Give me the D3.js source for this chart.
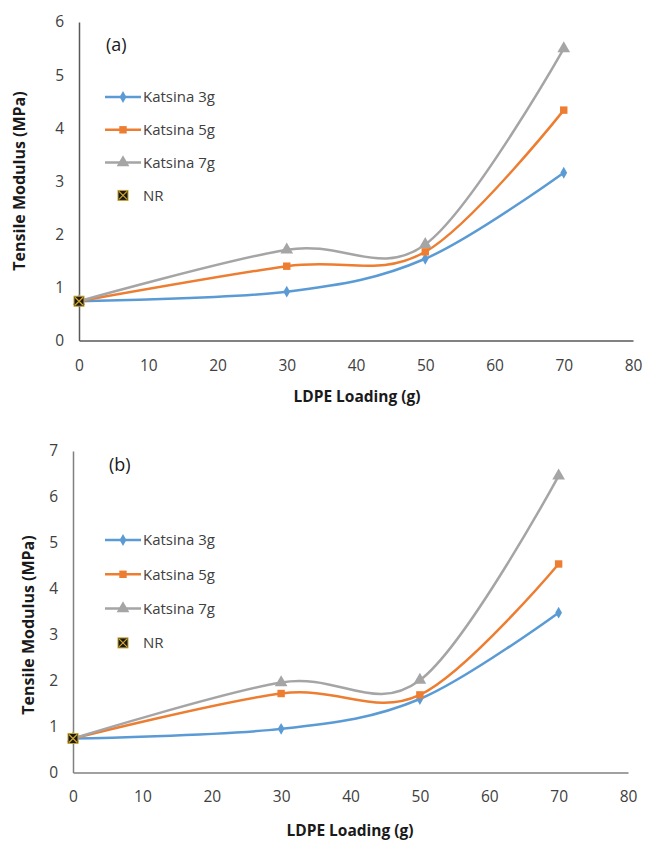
<!DOCTYPE html>
<html>
<head>
<meta charset="utf-8">
<script src="https://cdn.jsdelivr.net/npm/d3@7"></script>
<style>
  body { margin: 0; background: #fff; }
  text { font-family: "Open Sans", "Noto Sans", sans-serif; fill: #404040; }
</style>
</head>
<body>
<script>
// LDPE loading (g)
var loading = [0, 30, 50, 70];
var seriesNames = ["Katsina 3g", "Katsina 5g", "Katsina 7g"];

// panel (a)
var a3g = [0.74, 0.92, 1.54, 3.16];
var a5g = [0.74, 1.40, 1.67, 4.34];
var a7g = [0.74, 1.71, 1.81, 5.50];
// panel (b)
var b3g = [0.74, 0.95, 1.60, 3.48];
var b5g = [0.74, 1.72, 1.69, 4.54];
var b7g = [0.74, 1.96, 2.01, 6.46];

var nrLoading = 0, nrValueA = 0.74, nrValueB = 0.74;

var xTicks = [0, 10, 20, 30, 40, 50, 60, 70, 80];
var yTicksA = [0, 1, 2, 3, 4, 5, 6];
var yTicksB = [0, 1, 2, 3, 4, 5, 6, 7];

var colors = ["#5B9BD5", "#ED7D31", "#A5A5A5"];
var shapes = [d3.symbolDiamond, d3.symbolSquare, d3.symbolTriangle];
var shapeSizes = [40, 55, 70];

var svg = d3.select("body").append("svg")
  .attr("width", 646)
  .attr("height", 841);

function drawChart(opt) {
  var x = d3.scaleLinear().domain([0, 80]).range([opt.left, opt.right]);
  var y = d3.scaleLinear().domain([0, opt.ymax]).range([opt.bottom, opt.top]);
  var g = svg.append("g");

  // axes
  var xa = g.append("g").attr("transform", "translate(0," + opt.bottom + ")")
    .call(d3.axisBottom(x).tickValues(xTicks).tickFormat(d3.format("d")).tickSize(0).tickPadding(opt.xPad));
  var ya = g.append("g").attr("transform", "translate(" + opt.left + ",0)")
    .call(d3.axisLeft(y).tickValues(opt.yTicks).tickFormat(d3.format("d")).tickSize(0).tickPadding(opt.yPad));
  [xa, ya].forEach(function(a) {
    a.select(".domain").attr("stroke", opt.axisColor).attr("stroke-width", 1.5);
    a.selectAll("text").style("font-size", "15.5px").style("fill", "#404040")
      .style("font-family", '"Open Sans", sans-serif');
  });

  var line = d3.line()
    .x(function(d, i) { return x(loading[i]); })
    .y(function(d) { return y(d); })
    .curve(d3.curveCardinal.tension(0));

  opt.series.forEach(function(vals, k) {
    g.append("path").datum(vals)
      .attr("d", line)
      .attr("fill", "none")
      .attr("stroke", colors[k])
      .attr("stroke-width", 2.5);
    g.selectAll(".m" + k).data(vals).enter().append("path")
      .attr("transform", function(d, i) { return "translate(" + x(loading[i]) + "," + y(d) + ")"; })
      .attr("d", d3.symbol().type(shapes[k]).size(shapeSizes[k]))
      .attr("fill", colors[k]);
  });

  function nrMarker(parent, cx, cy) {
    parent.append("rect").attr("x", cx - 5).attr("y", cy - 5).attr("width", 10).attr("height", 10)
      .attr("fill", "#1a1a1a").attr("stroke", "#C9A227").attr("stroke-width", 1);
    parent.append("path")
      .attr("d", "M" + (cx - 4) + "," + (cy - 4) + "L" + (cx + 4) + "," + (cy + 4) +
                 "M" + (cx + 4) + "," + (cy - 4) + "L" + (cx - 4) + "," + (cy + 4))
      .attr("stroke", "#D4A82A").attr("stroke-width", 1.2);
  }
  nrMarker(g, x(nrLoading), y(opt.nr));

  // axis titles
  g.append("text")
    .attr("x", opt.xTitle[0]).attr("y", opt.xTitle[1])
    .attr("text-anchor", "middle")
    .style("font-size", "15.5px").style("font-weight", "bold").style("fill", "#1a1a1a")
    .text("LDPE Loading (g)");
  g.append("text")
    .attr("transform", "translate(" + opt.yTitle[0] + "," + opt.yTitle[1] + ") rotate(-90)")
    .attr("text-anchor", "middle")
    .style("font-size", "16px").style("font-weight", "bold").style("fill", "#1a1a1a")
    .text("Tensile Modulus (MPa)");

  // panel label
  g.append("text").attr("x", opt.label[0]).attr("y", opt.label[1])
    .style("font-size", "18px").style("fill", "#1a1a1a").text(opt.labelText);

  // legend
  var lg = g.append("g");
  seriesNames.forEach(function(name, k) {
    var ly = opt.legend[1] + k * opt.legendStep;
    lg.append("line").attr("x1", opt.legend[0]).attr("x2", opt.legend[0] + 36)
      .attr("y1", ly).attr("y2", ly).attr("stroke", colors[k]).attr("stroke-width", 2.5);
    lg.append("path").attr("transform", "translate(" + (opt.legend[0] + 18) + "," + ly + ")")
      .attr("d", d3.symbol().type(shapes[k]).size(shapeSizes[k])).attr("fill", colors[k]);
    lg.append("text").attr("x", opt.legend[0] + 38).attr("y", ly).attr("dy", "0.35em")
      .style("font-size", "15px").text(name);
  });
  var ny = opt.legend[1] + 3 * opt.legendStep;
  nrMarker(lg, opt.legend[0] + 18, ny);
  lg.append("text").attr("x", opt.legend[0] + 38).attr("y", ny).attr("dy", "0.35em")
    .style("font-size", "15px").text("NR");
}

drawChart({
  left: 79, right: 633, top: 22, bottom: 340.5, ymax: 6, yTicks: yTicksA,
  series: [a3g, a5g, a7g], nr: nrValueA, axisColor: "#595959",
  xPad: 19, yPad: 15,
  xTitle: [357, 402], yTitle: [25, 181],
  label: [106, 51], labelText: "(a)",
  legend: [105, 97], legendStep: 32.8
});

drawChart({
  left: 73, right: 628, top: 451, bottom: 772.5, ymax: 7, yTicks: yTicksB,
  series: [b3g, b5g, b7g], nr: nrValueB, axisColor: "#808080",
  xPad: 18, yPad: 15,
  xTitle: [350, 836], yTitle: [34, 625],
  label: [109, 471], labelText: "(b)",
  legend: [105, 540], legendStep: 34.3
});
</script>
</body>
</html>
